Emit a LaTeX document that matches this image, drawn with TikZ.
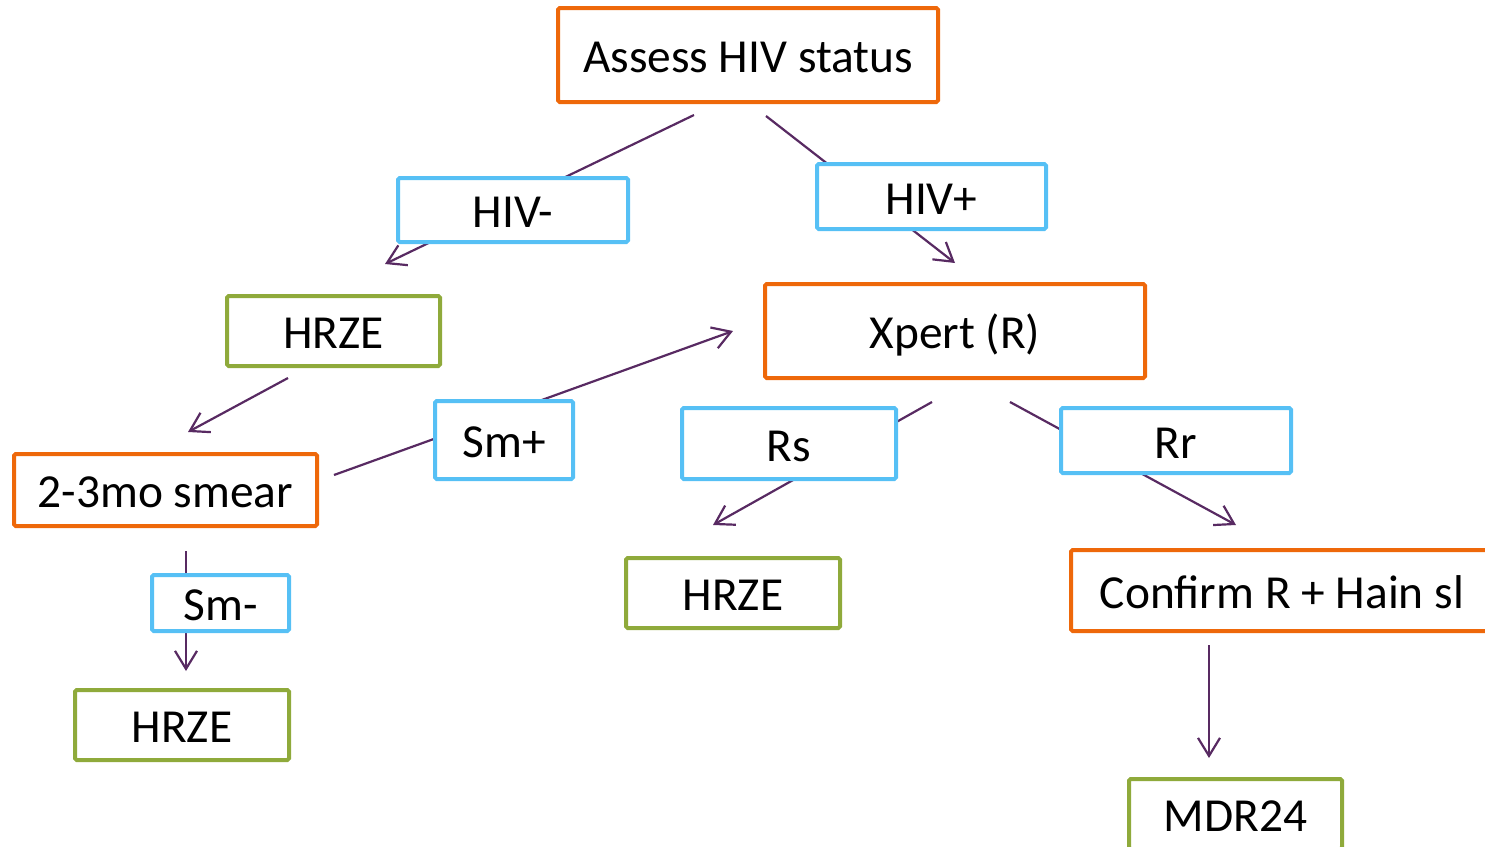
\documentclass[tikz,border=0pt]{standalone}
\usepackage{fontspec}
\setmainfont{Carlito}
\usetikzlibrary{arrows.meta}
\definecolor{borange}{RGB}{238,104,10}
\definecolor{bblue}{RGB}{86,192,245}
\definecolor{bgreen}{RGB}{143,170,59}
\definecolor{lpurple}{RGB}{88,42,98}
\tikzset{
  box/.style={draw, line width=2pt, fill=white, rounded corners=0.8pt, inner sep=0pt,
    font=\fontsize{23.7}{28}\selectfont, text height=20.5pt, text depth=3pt, align=center},
  obox/.style={box, draw=borange},
  bbox/.style={box, draw=bblue},
  gbox/.style={box, draw=bgreen},
  conn/.style={draw=lpurple, line width=1.1pt},
  arr/.style={conn, -{Straight Barb[length=9pt,width=11pt,line width=1.1pt]}}
}
\begin{document}
\begin{tikzpicture}[x=0.5pt,y=-0.5pt]
\useasboundingbox (0,0) rectangle (1485,847);
\clip (0,0) rectangle (1485,847);
% connector end points
\coordinate (c1s) at (694,115);  \coordinate (c1e) at (385,264);
\coordinate (c2s) at (766,116);  \coordinate (c2e) at (955,263);
\coordinate (c3s) at (288,378);  \coordinate (c3e) at (188,432);
\coordinate (c4s) at (334,475);  \coordinate (c4e) at (733,331);
\coordinate (c5s) at (186,551);  \coordinate (c5e) at (186,671);
\coordinate (c6s) at (932,402);  \coordinate (c6e) at (713,525);
\coordinate (c7s) at (1010,402); \coordinate (c7e) at (1236,525);
\coordinate (c8s) at (1209,645); \coordinate (c8e) at (1209,758);
% connectors
\draw[arr] (c1s) -- (c1e);
\draw[arr] (c2s) -- (c2e);
\draw[arr] (c3s) -- (c3e);
\draw[arr] (c4s) -- (c4e);
\draw[arr] (c5s) -- (c5e);
\draw[arr] (c6s) -- (c6e);
\draw[arr] (c7s) -- (c7e);
\draw[arr] (c8s) -- (c8e);
% nodes
\node[obox, minimum width=190pt, minimum height=47pt] (assess) at (748,55) {Assess HIV status};
\node[bbox, minimum width=115pt, minimum height=32pt] (hivneg) at (513,210) {HIV-};
\node[bbox, minimum width=114.5pt, minimum height=32.5pt] (hivpos) at (931.5,196.5) {HIV+};
\node[gbox, minimum width=106.5pt, minimum height=35pt] (hrzea) at (333.5,331) {HRZE};
\node[obox, minimum width=190pt, minimum height=47pt] (xpert) at (955,331) {Xpert (R)};
\node[bbox, minimum width=69pt, minimum height=39pt] (smpos) at (504,440) {Sm+};
\node[obox, minimum width=151.5pt, minimum height=36pt] (smear) at (165.5,490) {2-3mo smear};
\node[bbox, minimum width=107pt, minimum height=35.5pt] (rs) at (789,443.5) {Rs};
\node[bbox, minimum width=115pt, minimum height=32.5pt] (rr) at (1176,440.5) {Rr};
\node[bbox, minimum width=68.5pt, minimum height=28pt] (smneg) at (220.5,603) {Sm-};
\node[gbox, minimum width=107pt, minimum height=35pt] (hrzeb) at (182,725) {HRZE};
\node[gbox, minimum width=107pt, minimum height=35pt] (hrzec) at (733,593) {HRZE};
\node[obox, minimum width=211pt, minimum height=40.5pt] (confirm) at (1282,590.5) {Confirm R + Hain sl};
\node[gbox, minimum width=106.5pt, minimum height=35pt] (mdr) at (1235.5,814) {MDR24};
\end{tikzpicture}
\end{document}
